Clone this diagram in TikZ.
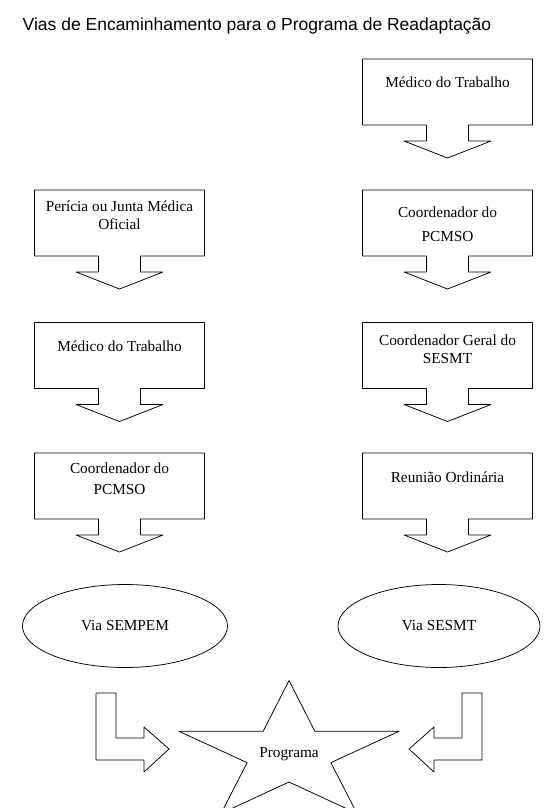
\documentclass[tikz,border=0pt]{standalone}
\usepackage{fontspec}
\setmainfont{Liberation Serif}
\newfontfamily\titlefont{Liberation Sans}
\usetikzlibrary{shapes.geometric,calc,positioning}
\tikzset{
  box/.style={rectangle,minimum width=170pt,minimum height=66pt,inner sep=0pt,outer sep=0pt,anchor=north},
  boxtext/.style={align=center,inner sep=0pt},
  via/.style={ellipse,draw,minimum width=205pt,minimum height=83pt,inner sep=0pt,font=\fontsize{15.3}{17.5}\selectfont},
}
\begin{document}
\begin{tikzpicture}[x=1pt,y=-1pt,line join=round,line width=0.75pt]
\useasboundingbox (0,0) rectangle (549,808);
\clip (0,0) rectangle (549,808);
\node[font=\titlefont\fontsize{17.5}{20}\selectfont,anchor=base] (title) at (257,31) {Vias de Encaminhamento para o Programa de Readaptação};
% caixas com seta para baixo
\foreach \i/\x/\y/\d/\ls/\t in {medR/447.5/59/23.75/17.5/{Médico do Trabalho},
  coordR/447.5/190/34.5/24/{Coordenador do\\PCMSO},
  geral/447.5/322.5/26.75/18/{Coordenador Geral do\\SESMT},
  reuniao/447.5/453/23.75/17.5/{Reunião Ordinária},
  pericia/119.5/190/25.25/17.6/{Perícia ou Junta Médica\\Oficial},
  medL/119.5/322.5/24.25/17.5/{Médico do Trabalho},
  coordL/119.5/453/26.25/21/{Coordenador do\\PCMSO}}{
  \node[box] (\i) at (\x,\y) {};
  \node[boxtext,font=\fontsize{15.3}{\ls}\selectfont] (\i-t) at ($(\i.north)+(0,\d)$) {\t};
  \draw (\i.south west) -- (\i.north west) -- (\i.north east) -- (\i.south east) -- ($(\i.south)+(21,0)$) -- ++(0,16) -- ++(22.5,0) -- ++(-43.5,17) -- ++(-43.5,-17) -- ++(22.5,0) -- ++(0,-16) -- cycle;
}
\node[via] (sempem) at (125,626) {Via SEMPEM};
\node[via,minimum width=202pt] (sesmt) at (439,626) {Via SESMT};
% estrela
\node[font=\fontsize{15.3}{17.5}\selectfont,inner sep=0pt] (prog) at (289,754) {Programa};
\draw[shift={(prog.center)}] (90:115.7pt and 73.5pt) \foreach \a in {126,198,270,342}{ -- (\a:44pt and 28pt) -- (\a+36:115.7pt and 73.5pt)} -- (414:44pt and 28pt) -- cycle;
% setas dobradas
\foreach \s in {1,-1}{\draw[shift={(prog.center)},xscale=\s] (-193,-61) -- (-173,-61) -- (-173,-16) -- (-145,-16) -- (-145,-27) -- (-120,-5) -- (-145,18) -- (-145,6) -- (-193,6) -- cycle;}
\end{tikzpicture}
\end{document}
